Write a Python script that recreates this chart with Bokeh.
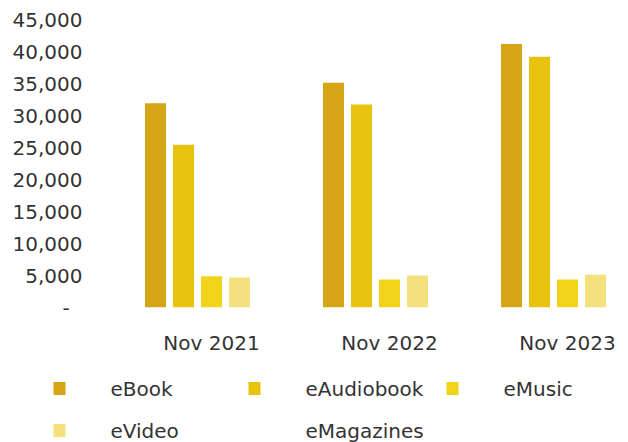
from bokeh.plotting import figure
from bokeh.models import ColumnDataSource, Range1d, FixedTicker, NumeralTickFormatter
from bokeh.transform import dodge
from bokeh.layouts import column
from bokeh.core.properties import value
from bokeh.embed import file_html
from bokeh.resources import INLINE

# ---- data ----
periods = ["Nov 2021", "Nov 2022", "Nov 2023"]
series = ["eBook", "eAudiobook", "eMusic", "eVideo", "eMagazines"]
ebook = [32000, 35200, 41300]
eaudiobook = [25500, 31800, 39300]
emusic = [4900, 4400, 4400]
evideo = [4700, 5000, 5150]
emagazines = [0, 0, 0]
colors = ["#D6A517", "#E7C20E", "#F2D31C", "#F3E17E", "#FFFFFF"]
y_ticks = [0, 5000, 10000, 15000, 20000, 25000, 30000, 35000, 40000, 45000]

FONT = "DejaVu Sans"
TXT = "#333333"

src = ColumnDataSource(dict(
    x=list(range(len(periods))),
    eBook=ebook, eAudiobook=eaudiobook, eMusic=emusic,
    eVideo=evideo, eMagazines=emagazines,
))

p = figure(width=628, height=362, output_backend="svg", toolbar_location=None,
           x_range=Range1d(-0.6236, 2.3427), y_range=Range1d(0, 45907),
           min_border_left=100, min_border_right=0, min_border_top=14,
           min_border_bottom=55)
p.frame_align = False
p.outline_line_color = None
p.xgrid.visible = False
p.ygrid.visible = False
p.background_fill_color = "white"
p.border_fill_color = "white"

pitch = 0.1573
bw = 0.118
for i, (name, col) in enumerate(zip(series, colors)):
    p.vbar(x=dodge("x", (i - 2) * pitch, range=p.x_range), top=name, width=bw,
           source=src, fill_color=col, line_color=None)

xa = p.xaxis[0]
xa.ticker = FixedTicker(ticks=list(range(len(periods))))
xa.major_label_overrides = {i: lab for i, lab in enumerate(periods)}
ya = p.yaxis[0]
ya.ticker = FixedTicker(ticks=y_ticks)
ya.formatter = NumeralTickFormatter(format="0,0")
ya.major_label_overrides = {0: "-\u00a0\u00a0"}
for ax in (xa, ya):
    ax.axis_line_color = None
    ax.major_tick_line_color = None
    ax.minor_tick_line_color = None
    ax.major_label_text_font = FONT
    ax.major_label_text_font_size = "20px"
    ax.major_label_text_color = TXT
ya.major_label_standoff = 12
xa.major_label_standoff = 17

# ---- legend (separate strip) ----
LH = 80
leg = figure(width=628, height=LH, output_backend="svg", toolbar_location=None,
             x_range=Range1d(0, 628), y_range=Range1d(LH, 0),
             min_border=0, x_axis_location=None, y_axis_location=None)
leg.frame_align = False
leg.outline_line_color = None
leg.xgrid.visible = False
leg.ygrid.visible = False

col_x = [59, 254, 452]
row_y = [26, 68]
mx, my, tx, ty, mc, labels = [], [], [], [], [], []
for i, (name, col) in enumerate(zip(series, colors)):
    r, c = divmod(i, 3)
    mx.append(col_x[c]); my.append(row_y[r]); mc.append(col)
    tx.append(col_x[c] + 51); ty.append(row_y[r]); labels.append(name)
leg.rect(x=mx, y=my, width=12, height=13, width_units="screen",
         height_units="screen", fill_color=mc, line_color=None)
leg.text(x=tx, y=ty, text=labels, text_font=value(FONT), text_font_size="20px",
         text_color=TXT, text_baseline="middle", text_align="left")

layout = column(p, leg, spacing=0)
open("out.html", "w").write(file_html(layout, INLINE))
